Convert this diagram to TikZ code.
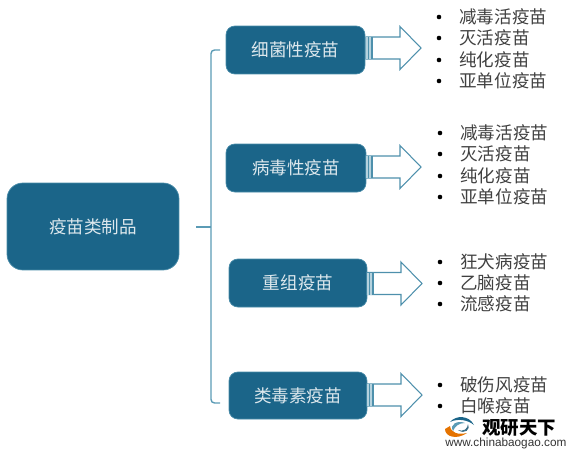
\documentclass[tikz,border=0pt]{standalone}
\usepackage{fontspec}
\setmainfont{Noto Sans CJK SC}
\newfontfamily\latinfont{Liberation Sans}
\usepackage{tikz}
\usetikzlibrary{arrows.meta}

\definecolor{boxblue}{HTML}{1B6589}
\definecolor{linkblue}{HTML}{5B9BB5}
\definecolor{itemgray}{HTML}{404040}

\begin{document}
\begin{tikzpicture}[
    x=0.02cm, y=-0.02cm,
    cat/.style={draw=linkblue!70!boxblue, fill=boxblue, rounded corners=5pt, inner sep=0pt, text=white!85!boxblue, font=\fontsize{10pt}{12pt}\selectfont},
    link/.style={linkblue, line width=0.8pt},
    fat/.style={draw=linkblue!80!boxblue, fill=white, line width=0.6pt},
    item/.style={anchor=west, text=itemgray, inner sep=0pt, font=\fontsize{10pt}{12pt}\selectfont},
    dot/.style={circle, fill=black, minimum size=2.6pt, inner sep=0pt}
]
    \useasboundingbox (0,0) rectangle (571,460);

    % root and categories
    \node[cat, minimum width=3.44cm, minimum height=1.74cm, rounded corners=9pt] (root) at (93,226.5) {疫苗类制品};
    \node[cat, minimum width=2.78cm, minimum height=0.96cm] (bact) at (295.5,50) {细菌性疫苗};
    \node[cat, minimum width=2.80cm, minimum height=0.96cm] (virus) at (296,168) {病毒性疫苗};
    \node[cat, minimum width=2.76cm, minimum height=0.96cm] (recomb) at (298,283) {重组疫苗};
    \node[cat, minimum width=2.76cm, minimum height=0.94cm] (toxoid) at (298,395.5) {类毒素疫苗};

    % bracket
    \coordinate (stem) at (196,227);
    \coordinate (mid) at (211,227);
    \coordinate (brtop) at (220,50);
    \coordinate (brbot) at (220,403);
    \draw[link, rounded corners=2pt] (brtop) -- (211,50) -- (211,403) -- (brbot);
    \draw[link] (stem) -- (mid);

    % fat arrows
    \foreach \y/\xa in {48/366, 167/366, 283.5/367, 395/367} {
        \draw[fat] (\xa,\y-11) -- (\xa+34,\y-11) -- (\xa+34,\y-21.5) -- (\xa+55,\y) -- (\xa+34,\y+21.5)
            -- (\xa+34,\y+11) -- (\xa,\y+11) -- cycle;
        \fill[linkblue!45] (\xa,\y-11) rectangle (\xa+6,\y+11);
        \draw[fat] (\xa+2.5,\y-11) -- (\xa+2.5,\y+11);
        \draw[fat] (\xa+6,\y-11) -- (\xa+6,\y+11);
    }

    % item lists
    \foreach \t/\x/\y in {减毒活疫苗/459/17, 灭活疫苗/459/38, 纯化疫苗/459/60, 亚单位疫苗/459/81,
                          减毒活疫苗/460/133, 灭活疫苗/460/154, 纯化疫苗/460/176, 亚单位疫苗/460/197,
                          狂犬病疫苗/460/262, 乙脑疫苗/460/283, 流感疫苗/460/304,
                          破伤风疫苗/460/385, 白喉疫苗/460/406} {
        \node[item] at (\x,\y) {\t};
        \node[dot] at (\x-20,\y) {};
    }

    % logo
    \fill[orange!90!black] (445,429) .. controls (445,437) and (457,440) .. (467,433) .. controls (458,435) and (451,433) .. (450,426) -- cycle;
    \fill[boxblue] (450,422) .. controls (456,415) and (469,415) .. (474,425) .. controls (468,420) and (458,418) .. (450,422) -- cycle;
    \fill[linkblue] (453,431) .. controls (449,424) and (458,420) .. (465,423) .. controls (459,423) and (455,426) .. (453,431) -- cycle;
    \fill[boxblue!70!gray] (458,430) .. controls (463,432) and (468,429) .. (468,424) .. controls (471,429) and (465,435) .. (458,430) -- cycle;
    \node[anchor=west, inner sep=0pt, font=\fontsize{10.5pt}{12pt}\selectfont\bfseries] at (482,428) {观研天下};
    \node[anchor=west, inner sep=0pt, text=black!80, font=\fontsize{6.7pt}{8pt}\selectfont\latinfont] at (445,443) {www.chinabaogao.com};
\end{tikzpicture}
\end{document}
